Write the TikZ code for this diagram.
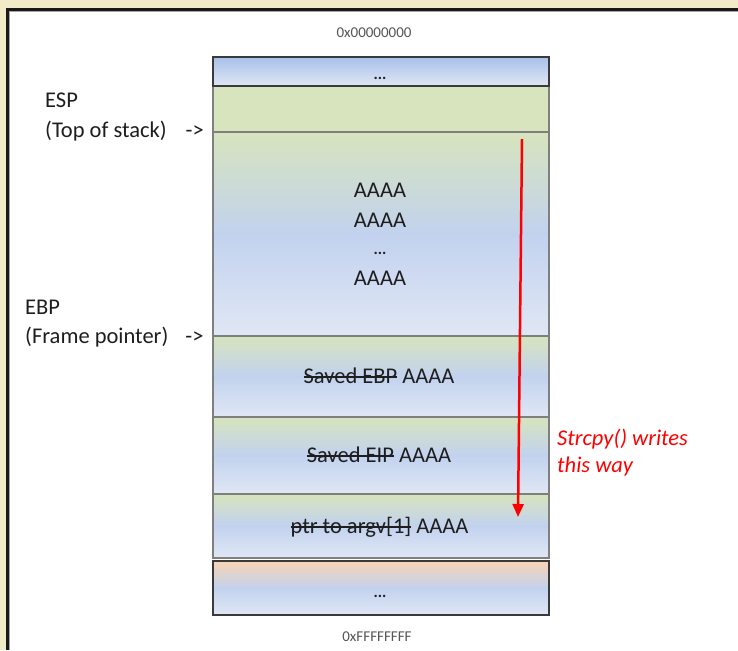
\documentclass[tikz,border=0pt]{standalone}
\usepackage{fontspec}
\setmainfont{Carlito}
\usetikzlibrary{arrows.meta}
\newsavebox\mystrikebox
\newcommand\mystrike[1]{\sbox\mystrikebox{#1}\rlap{\raisebox{0.24em}{\rule{\wd\mystrikebox}{1.7pt}}}\usebox\mystrikebox}
\definecolor{pagebeige}{HTML}{F2EBC7}
\definecolor{cgreen}{HTML}{D7E4BD}
\definecolor{cblue}{HTML}{C2D2EE}
\definecolor{clight}{HTML}{E0E7F5}
\definecolor{cbluetop}{HTML}{A9C1EA}
\definecolor{cpeach}{HTML}{F8D4B4}
\definecolor{cellline}{HTML}{7F7F7F}
\definecolor{enddark}{HTML}{3A3A3A}
\definecolor{txt}{HTML}{1E1E1E}
\definecolor{addr}{HTML}{555555}
\definecolor{redink}{HTML}{FF0000}
\begin{document}
\begin{tikzpicture}[x=1pt,y=-1pt,
  cell/.style={draw=cellline, line width=1.5pt, minimum width=336pt, inner sep=0pt, anchor=north west},
  endcell/.style={cell, draw=enddark, line width=2pt},
  gradcell/.style={cell, top color=cgreen, bottom color=clight, middle color=cblue},
  body/.style={font=\fontsize{22.5}{27}\selectfont, text=txt, inner sep=0pt},
  midtxt/.style={body, anchor=base},
  lbl/.style={body, anchor=base west},
  dots/.style={font=\fontsize{16}{16}\selectfont\bfseries, text=txt, inner sep=0pt, anchor=base},
  addrtxt/.style={font=\fontsize{15}{18}\selectfont, text=addr, inner sep=0pt},
  redtxt/.style={font=\fontsize{22.5}{27}\selectfont\itshape, text=redink, anchor=base west, inner sep=0pt}]

\useasboundingbox (0,0) rectangle (738,650);
\fill[pagebeige] (0,0) rectangle (738,650);
\fill[white] (7,10) rectangle (738,650);
\draw[line width=2.5pt, black!90] (7.5,650) -- (7.5,9.5) -- (738,9.5);
\draw[line width=1pt, black!35] (9.8,650) -- (9.8,11.8) -- (738,11.8);

% addresses
\node[addrtxt] (lowaddr) at (374,33) {0x00000000};
\node[addrtxt] (highaddr) at (377,637) {0xFFFFFFFF};

% stack cells
\node[cell, minimum height=45.5pt, fill=cgreen] (r2) at (212,85.5) {};
\node[gradcell, minimum height=204pt] (r3) at (212,131) {};
\node[gradcell, minimum height=81pt] (r4) at (212,335) {};
\node[gradcell, minimum height=77pt] (r5) at (212,416) {};
\node[gradcell, minimum height=64pt] (r6) at (212,493) {};
\node[endcell, minimum height=29pt, top color=cbluetop, bottom color=clight] (r1) at (212,56.5) {};
\node[endcell, minimum height=54pt, top color=cpeach, bottom color=clight, middle color=cblue] (r7) at (212,560) {};

% cell texts
\node[dots] (d1) at (380,80) {...};
\node[midtxt] (a1) at (380,197) {AAAA};
\node[midtxt] (a2) at (380,227) {AAAA};
\node[dots] (a3) at (380,254) {...};
\node[midtxt] (a4) at (380,285) {AAAA};
\node[midtxt] (t4) at (379,383) {\mystrike{Saved EBP} AAAA};
\node[midtxt] (t5) at (379,462) {\mystrike{Saved EIP} AAAA};
\node[midtxt] (t6) at (379.5,533) {\mystrike{ptr to argv[1]} AAAA};
\node[dots] (d7) at (380,597) {...};

% register labels
\node[lbl] (esp) at (45,108) {ESP};
\node[lbl] (esp2) at (45,137) {(Top of stack)\hspace{19pt}->};
\node[lbl] (ebp) at (25,314) {EBP};
\node[lbl] (ebp2) at (25,343) {(Frame pointer)\hspace{17pt}->};

% red arrow
\coordinate (arrs) at (522,139);
\coordinate (arre) at (518,517);
\draw[redink, line width=2.5pt, -{Triangle[width=11pt,length=13pt]}] (arrs) -- (arre);
\node[redtxt] (w1) at (557,445) {Strcpy() writes};
\node[redtxt] (w2) at (557,472) {this way};
\end{tikzpicture}
\end{document}
